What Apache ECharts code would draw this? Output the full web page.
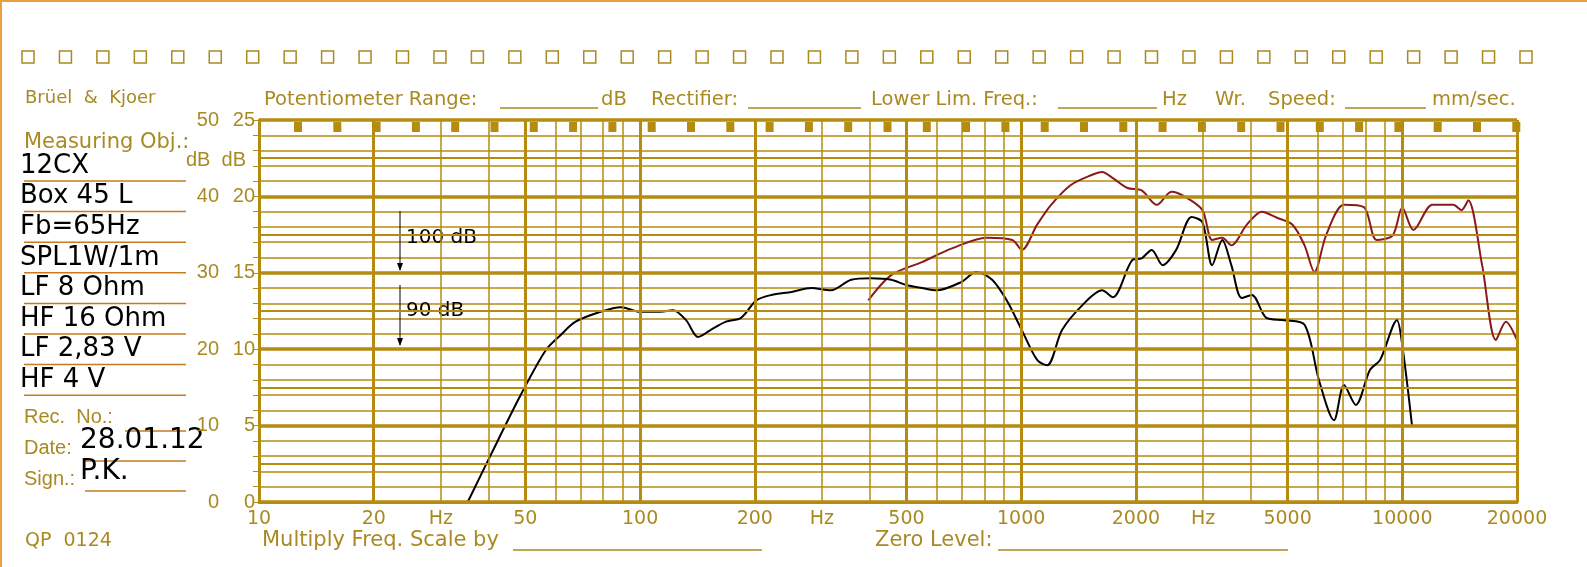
<!DOCTYPE html>
<html><head><meta charset="utf-8">
<script src="https://cdn.jsdelivr.net/npm/echarts@6/dist/echarts.min.js"></script>
<style>html,body{margin:0;padding:0;background:#fff}#c{width:1587px;height:567px}</style>
</head><body><div id="c"></div>
<script>
const blackFreq=[35.3,40.6,48.6,56.6,62,67.7,78.8,89,100,113,122,132,142,153,168,184,202,221,250,281,317,358,404,456,499,549,600,697,763,839,916,1004,1101,1170,1280,1450,1630,1740,1960,2070,2200,2350,2550,2800,2990,3170,3370,3560,3790,4030,4400,4900,5540,6040,6620,7030,7550,8230,8750,9680,10000,10600];
const blackDb=[0,6.2,14.0,19.9,21.9,23.6,24.9,25.5,24.9,24.9,25.1,23.8,21.6,22.5,23.6,24.1,26.4,27.1,27.5,28.0,27.7,29.1,29.3,29.1,28.4,28.0,27.7,28.8,30.1,29.1,26.4,22.5,18.6,17.9,22.5,25.8,27.7,26.8,31.7,31.9,33.0,31.0,33.0,37.3,36.6,31.0,34.3,31.0,26.7,27.1,24.1,23.8,23.2,16.0,10.7,15.3,12.7,17.3,18.6,23.8,20.5,10.1];
const redFreq=[397,456,549,658,812,948,1004,1101,1198,1350,1530,1630,1740,1900,2070,2270,2480,2700,2990,3170,3370,3560,3910,4280,4690,5150,5540,5880,6320,7030,7930,8560,9440,10000,10700,12000,13600,14300,14900,16200,17600,18700,20000];
const redDb=[26.4,29.7,31.4,33.2,34.6,34.3,33.0,36.3,38.9,41.5,42.8,43.2,42.4,41.1,40.8,38.9,40.6,39.9,38.2,34.3,34.6,33.6,36.3,38.0,37.2,36.3,33.6,30.1,35.0,38.9,38.6,34.3,34.9,38.5,35.6,38.9,38.9,38.2,39.5,31.0,21.2,23.6,21.2];
const gridFreqs=[10,20,30,40,50,60,70,80,90,100,200,300,400,500,600,700,800,900,1000,2000,3000,4000,5000,6000,7000,8000,9000,10000,20000];
const majorFreqs=[10,20,50,100,200,500,1000,2000,5000,10000,20000];
const xTickLabels=[[10,'10'],[20,'20'],[30,'Hz'],[50,'50'],[100,'100'],[200,'200'],[300,'Hz'],[500,'500'],[1000,'1000'],[2000,'2000'],[3000,'Hz'],[5000,'5000'],[10000,'10000'],[20000,'20000']];
const dbMajor=[0,10,20,30,40,50];
const leftLines=['12CX','Box 45 L','Fb=65Hz','SPL1W/1m','LF 8 Ohm','HF 16 Ohm','LF 2,83 V','HF 4 V'];

const G='#b58c10', T='#a98a22', U='#c87a1e', F='Arial, "Liberation Sans", sans-serif', D='"DejaVu Sans", sans-serif';
const chart=echarts.init(document.getElementById('c'));
const ml=(data)=>({silent:true,symbol:'none',label:{show:false},animation:false,data});
chart.setOption({
  animation:false,
  grid:{left:259,right:70,top:120,bottom:65},
  xAxis:{type:'log',min:10,max:20000,logBase:10,axisLine:{lineStyle:{color:G,width:3}},axisTick:{show:false},axisLabel:{show:false},splitLine:{show:false}},
  yAxis:[
   {type:'value',min:0,max:50,interval:2,axisLine:{show:true,lineStyle:{color:G,width:3}},
    axisTick:{show:true,length:6,lineStyle:{color:G}},
    axisLabel:{margin:40,color:T,fontSize:20,fontFamily:F,formatter:v=>v%10===0?String(v):''},
    splitLine:{lineStyle:{color:G,width:1.5}}},
   {type:'value',min:0,max:25,interval:1,position:'left',axisLine:{show:false},axisTick:{show:false},
    axisLabel:{margin:4,color:T,fontSize:20,fontFamily:F,formatter:v=>v%5===0?String(v):''},splitLine:{show:false}}
  ],
  series:[
   {type:'line',data:[],markLine:{...ml(gridFreqs.map(f=>({xAxis:f,lineStyle:{color:G,type:'solid',width:majorFreqs.includes(f)?3:1.5}})))}},
   {type:'line',data:[],markLine:{...ml(dbMajor.map(d=>({yAxis:d,lineStyle:{color:G,type:'solid',width:3.5}})))}},
   {type:'line',data:[],markLine:{...ml([5,15,25,35,45].map(d=>({yAxis:d,lineStyle:{color:G,type:'solid',width:2}})))}},
   {type:'line',name:'HF',data:redFreq.map((f,i)=>[f,redDb[i]]),showSymbol:false,smooth:0.3,lineStyle:{color:'#8b1a1a',width:2}},
   {type:'line',name:'LF',data:blackFreq.map((f,i)=>[f,blackDb[i]]),showSymbol:false,smooth:0.3,lineStyle:{color:'#000',width:2}}
  ]
});
const g=[];
const txt=(x,y,s,o={})=>g.push({type:'text',x,y,style:Object.assign({text:s,fill:T,font:'18px '+F,textVerticalAlign:'middle'},o)});
const line=(x1,y1,x2,y2,c,w)=>g.push({type:'line',shape:{x1,y1,x2,y2},style:{stroke:c,lineWidth:w}});
g.push({type:'rect',shape:{x:1,y:1,width:1590,height:570},style:{fill:'none',stroke:'#e8a040',lineWidth:2}});
for(let i=0;i<41;i++) g.push({type:'rect',shape:{x:22+i*37.45,y:51,width:12,height:12},style:{fill:'none',stroke:T,lineWidth:1.5}});
for(let i=0;i<32;i++) g.push({type:'rect',shape:{x:294+i*39.3,y:122,width:8,height:10},style:{fill:G}});
txt(25,98,'Brüel  &  Kjoer',{font:'18px '+D});
const TF='19.5px '+D;
[[264,'Potentiometer Range:'],[601,'dB'],[651,'Rectifier:'],[871,'Lower Lim. Freq.:'],[1162,'Hz'],[1215,'Wr.'],[1268,'Speed:'],[1432,'mm/sec.']].forEach(([x,s])=>txt(x,100,s,{font:TF}));
[[500,598],[748,861],[1058,1157],[1345,1426]].forEach(([a,b])=>line(a,108,b,108,T,1.5));
txt(24,143,'Measuring Obj.:',{font:'21px '+D});
txt(186,160,'dB  dB',{font:'20px '+F});
leftLines.forEach((s,i)=>{txt(20,166+i*30.6,s,{fill:'#000',font:'26px '+D});line(24,181+i*30.6,186,181+i*30.6,U,1.5);});
txt(24,417,'Rec.  No.:',{font:'20px '+F});line(125,431,186,431,U,1.5);
txt(24,448,'Date:',{font:'20px '+F});txt(80,441,'28.01.12',{fill:'#000',font:'28px '+D});line(85,461,186,461,U,1.5);
txt(24,479,'Sign.:',{font:'20px '+F});txt(80,472,'P.K.',{fill:'#000',font:'28px '+D});line(85,491,186,491,U,1.5);
txt(25,541,'QP  0124',{font:'19px '+D});
txt(262,541,'Multiply Freq. Scale by',{font:'21px '+D});line(513,550,762,550,T,1.5);
txt(875,541,'Zero Level:',{font:'21px '+D});line(998,550,1288,550,T,1.5);
line(400,211,400,270,'#000',1);g.push({type:'polygon',shape:{points:[[397,263],[403,263],[400,271]]},style:{fill:'#000'}});
line(400,285,400,345,'#000',1);g.push({type:'polygon',shape:{points:[[397,338],[403,338],[400,346]]},style:{fill:'#000'}});
txt(406,238,'100 dB',{fill:'#000',font:'20px '+D});
txt(406,311,'90 dB',{fill:'#000',font:'20px '+D});
xTickLabels.forEach(([f,s])=>{const p=chart.convertToPixel({xAxisIndex:0,yAxisIndex:0},[f,0]);txt(p[0],519,s,{textAlign:'center',font:'19px '+D});});
chart.setOption({graphic:g});
</script></body></html>
